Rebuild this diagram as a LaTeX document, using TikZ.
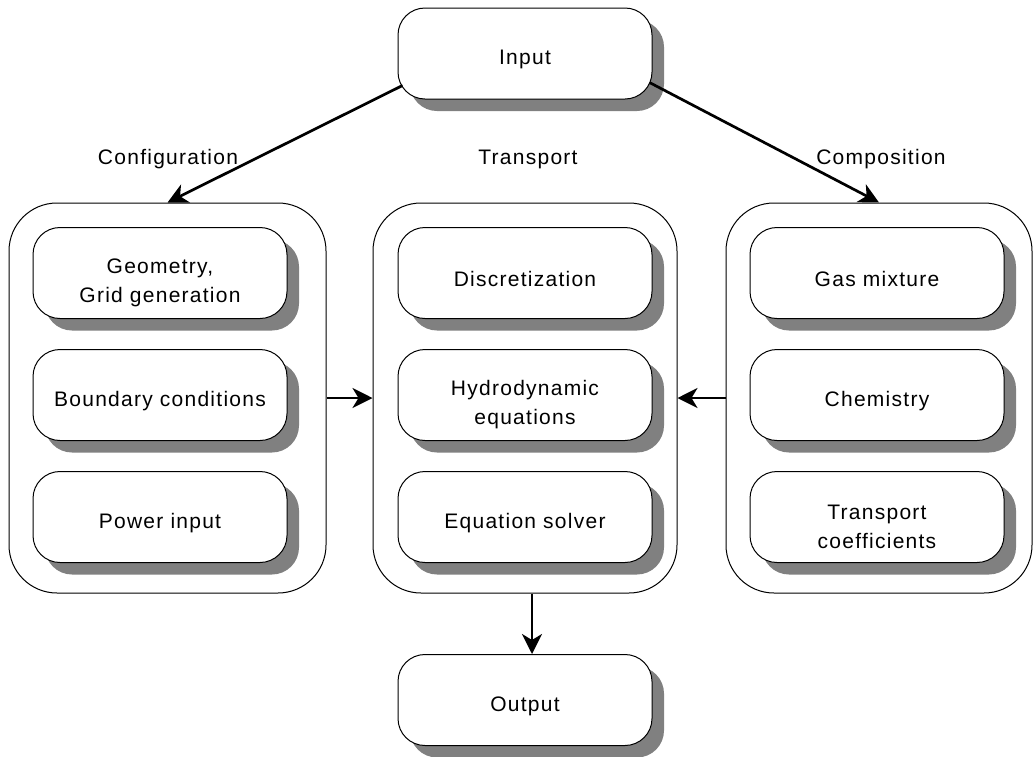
\documentclass[tikz,border=0pt]{standalone}
\usepackage{fontspec}
\setmainfont{Liberation Sans}[LetterSpace=6.0]
\usetikzlibrary{arrows.meta,shadows}
\definecolor{shadowgray}{HTML}{808080}
% strut that lowers a two-line label a little inside its box
\newcommand{\lowerfirst}{\rule{0pt}{35pt}}
\tikzset{
  box/.style={draw=black, line width=1pt, fill=white, rounded corners=27pt,
    minimum width=254pt, minimum height=91pt, inner sep=0pt, align=center,
    font=\fontsize{21}{29}\selectfont,
    execute at begin node={\rule{0pt}{27pt}},
    drop shadow={shadow xshift=12pt, shadow yshift=-12pt, fill=shadowgray, opacity=1, draw=none}},
  group/.style={draw=black, line width=1pt, rounded corners=48pt,
    minimum height=390pt, inner sep=0pt},
  caption/.style={anchor=base, inner sep=0pt, font=\fontsize{21}{25}\selectfont},
  arr/.style={line width=2.7pt, -{Stealth[length=20pt, width=20pt, inset=6pt]}}
}
\begin{document}
\begin{tikzpicture}[x=1pt, y=-1pt]
  \useasboundingbox (0,0) rectangle (1034,756);

  % grouping frames
  \node[group, minimum width=317pt] (conf) at (167.5,398) {};
  \node[group, minimum width=304pt] (mid)  at (525,398) {};
  \node[group, minimum width=306pt] (comp) at (879,398) {};

  % top and bottom boxes
  \node[box] (in)  at (525,53.5) {Input};
  \node[box] (out) at (525,700) {Output};

  % configuration column
  \node[box] (geo)  at (160,273) {\lowerfirst Geometry,\\Grid generation};
  \node[box] (bc)   at (160,395) {Boundary conditions};
  \node[box] (pow)  at (160,517) {Power input};

  % transport column
  \node[box] (disc) at (525,273) {Discretization};
  \node[box] (hydro) at (525,395) {\lowerfirst Hydrodynamic\\equations};
  \node[box] (solv) at (525,517) {Equation solver};

  % composition column
  \node[box] (gas)  at (877,273) {Gas mixture};
  \node[box] (chem) at (877,395) {Chemistry};
  \node[box] (tc)   at (877,517) {\lowerfirst Transport\\coefficients};

  % column captions
  \node[caption] (lconf)  at (168,164) {Configuration};
  \node[caption] (ltrans) at (528,164) {Transport};
  \node[caption] (lcomp)  at (881,164) {Composition};

  % connectors
  \draw[arr] ([shift={(5,-14)}]in.south west) -- (conf.north);
  \draw[arr] ([shift={(-3,-17)}]in.south east) -- (comp.north);
  \draw[arr] (conf.east) -- (mid.west);
  \draw[arr] (comp.west) -- (mid.east);
  \draw[arr] ([xshift=7pt]mid.south) -- ([xshift=7pt]out.north);
\end{tikzpicture}
\end{document}
